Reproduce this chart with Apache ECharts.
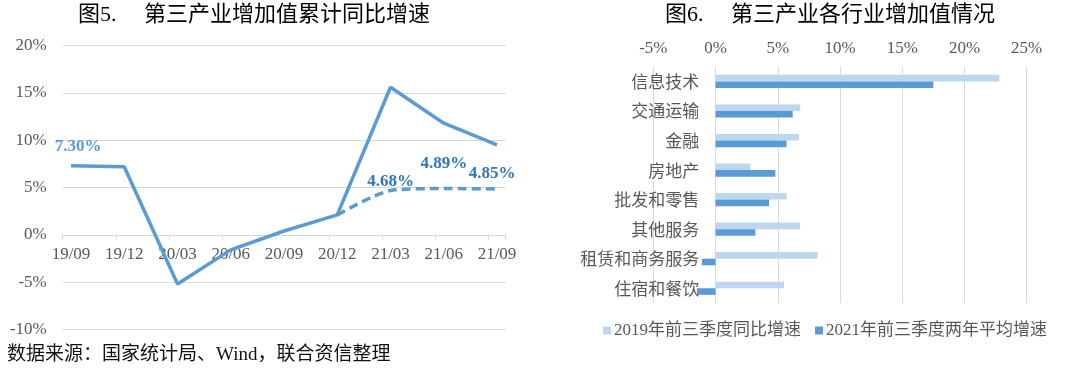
<!DOCTYPE html>
<html>
<head>
<meta charset="utf-8">
<script src="https://cdn.jsdelivr.net/npm/echarts@6/dist/echarts.min.js"></script>
<style>html,body{margin:0;padding:0;background:#fff}#c{width:1080px;height:371px}</style>
</head>
<body>
<div id="c"></div>
<script>
// ---- Left chart data ----
const periods = ['19/09','19/12','20/03','20/06','20/09','20/12','21/03','21/06','21/09'];
const cumulativeGrowth = [7.3, 7.2, -5.2, -1.6, 0.4, 2.1, 15.6, 11.8, 9.5];
const twoYearAvgGrowth = [null, null, null, null, null, 2.1, 4.68, 4.89, 4.85];
const leftYTicks = [-10, 20, 5];
// ---- Right chart data ----
const industries = ['信息技术','交通运输','金融','房地产','批发和零售','其他服务','租赁和商务服务','住宿和餐饮'];
const growth2019 = [22.8, 6.8, 6.7, 2.8, 5.7, 6.8, 8.2, 5.5];
const growth2021 = [17.5, 6.2, 5.7, 4.8, 4.3, 3.2, -1.1, -1.5];
const seriesNames = ['2019年前三季度同比增速', '2021年前三季度两年平均增速'];
const rightXTicks = [-5, 25, 5];

const SERIF = "'Liberation Serif','Noto Sans CJK SC',serif";
const CJK = "'Liberation Serif','Noto Sans CJK SC',sans-serif";
const GRID_C = '#D9D9D9';
const LABEL_C = '#595959';

const chart = echarts.init(document.getElementById('c'), null, {renderer: 'canvas'});

const labelBase = {show: true, position: 'top', formatter: p => p.value.toFixed(2) + '%',
  fontFamily: SERIF, fontWeight: 'bold', fontSize: 17};
const dashLabelOffsets = {6: [0, 5], 7: [0, -11], 8: [-5, -2]};
const dashedData = twoYearAvgGrowth.map((v, i) => {
  if (v === null) return '-';
  const o = dashLabelOffsets[i];
  if (!o) return v;
  return {value: v, label: Object.assign({}, labelBase, {offset: o, color: '#2F75BD'})};
});
const solidData = cumulativeGrowth.map((v, i) => i === 0
  ? {value: v, label: Object.assign({}, labelBase, {offset: [7, -6], color: '#5B9BD5'})} : v);

const option = {
  animation: false,
  textStyle: {fontFamily: SERIF},
  grid: [
    {left: 62.7, right: 574.3, top: 45.7, bottom: 41.7},
    {left: 71, right: 583, top: 45.7, bottom: 41.7},
    {left: 653.3, right: 53.3, top: 66.7, bottom: 68}
  ],
  xAxis: [
    {gridIndex: 0, type: 'value', min: 0, max: 8.32, interval: 1,
      axisLine: {show: true, onZero: true, lineStyle: {color: GRID_C, width: 1}},
      axisTick: {show: true, length: 5, lineStyle: {color: GRID_C}},
      axisLabel: {show: false}, splitLine: {show: false}},
    {gridIndex: 1, type: 'category', data: periods, boundaryGap: false,
      axisLine: {show: false, onZero: false},
      axisTick: {show: false},
      axisLabel: {margin: -83, color: LABEL_C, fontFamily: SERIF, fontSize: 17, interval: 0},
      splitLine: {show: false}},
    {gridIndex: 2, type: 'value', position: 'top', min: rightXTicks[0], max: rightXTicks[1], interval: rightXTicks[2],
      axisLine: {show: false}, axisTick: {show: false},
      axisLabel: {margin: 10, color: LABEL_C, fontFamily: SERIF, fontSize: 17, formatter: '{value}%'},
      splitLine: {show: true, lineStyle: {color: GRID_C, width: 1}}}
  ],
  yAxis: [
    {gridIndex: 0, type: 'value', min: leftYTicks[0], max: leftYTicks[1], interval: leftYTicks[2],
      axisLine: {show: false}, axisTick: {show: false},
      axisLabel: {margin: 16, color: LABEL_C, fontFamily: SERIF, fontSize: 17, formatter: '{value}%'},
      splitLine: {show: true, lineStyle: {color: GRID_C, width: 1}}},
    {gridIndex: 1, type: 'value', min: leftYTicks[0], max: leftYTicks[1],
      axisLine: {show: false}, axisTick: {show: false}, axisLabel: {show: false},
      splitLine: {show: false}},
    {gridIndex: 2, type: 'category', data: industries, inverse: true,
      axisLine: {show: false, onZero: false},
      axisTick: {show: false},
      axisLabel: {margin: -46, color: LABEL_C, fontFamily: "'Noto Sans CJK SC',sans-serif", fontSize: 17, interval: 0}}
  ],
  legend: {
    data: seriesNames,
    left: 598, top: 317,
    icon: 'rect', itemWidth: 8, itemHeight: 8, itemGap: 14,
    textStyle: {color: LABEL_C, fontFamily: CJK, fontSize: 17, padding: [0,0,0,-2]}
  },
  series: [
    {type: 'line', xAxisIndex: 1, yAxisIndex: 1, data: solidData, symbol: 'circle', symbolSize: 0, showSymbol: true,
      lineStyle: {color: '#5B9BD5', width: 3.5}, itemStyle: {color: '#5B9BD5'}, z: 3, clip: false},
    {type: 'line', xAxisIndex: 1, yAxisIndex: 1, data: dashedData, symbol: 'circle', symbolSize: 0, showSymbol: true, smooth: 0.25,
      lineStyle: {color: '#5B9BD5', width: 3.5, type: [9, 5]}, itemStyle: {color: '#5B9BD5'}, z: 3, clip: false},
    {type: 'bar', name: seriesNames[0], xAxisIndex: 2, yAxisIndex: 2, data: growth2019,
      barWidth: 6.6, barGap: '0%', itemStyle: {color: '#BDD7EE'}},
    {type: 'bar', name: seriesNames[1], xAxisIndex: 2, yAxisIndex: 2, data: growth2021,
      barWidth: 6.6, barGap: '0%', itemStyle: {color: '#5B9BD5'}}
  ],
  graphic: [
    {type: 'text', left: 78, top: 4, style: {text: '图5.\u3000 第三产业增加值累计同比增速', fill: '#000',
      font: "22px 'Liberation Serif','Noto Sans CJK SC',sans-serif"}},
    {type: 'text', left: 665, top: 4, style: {text: '图6.\u3000 第三产业各行业增加值情况', fill: '#000',
      font: "22px 'Liberation Serif','Noto Sans CJK SC',sans-serif"}},
    {type: 'text', left: 7, top: 346, style: {text: '数据来源：国家统计局、Wind，联合资信整理', fill: '#111',
      font: "19px 'Liberation Serif','Noto Sans CJK SC',sans-serif"}}
  ]
};
chart.setOption(option);
</script>
</body>
</html>
